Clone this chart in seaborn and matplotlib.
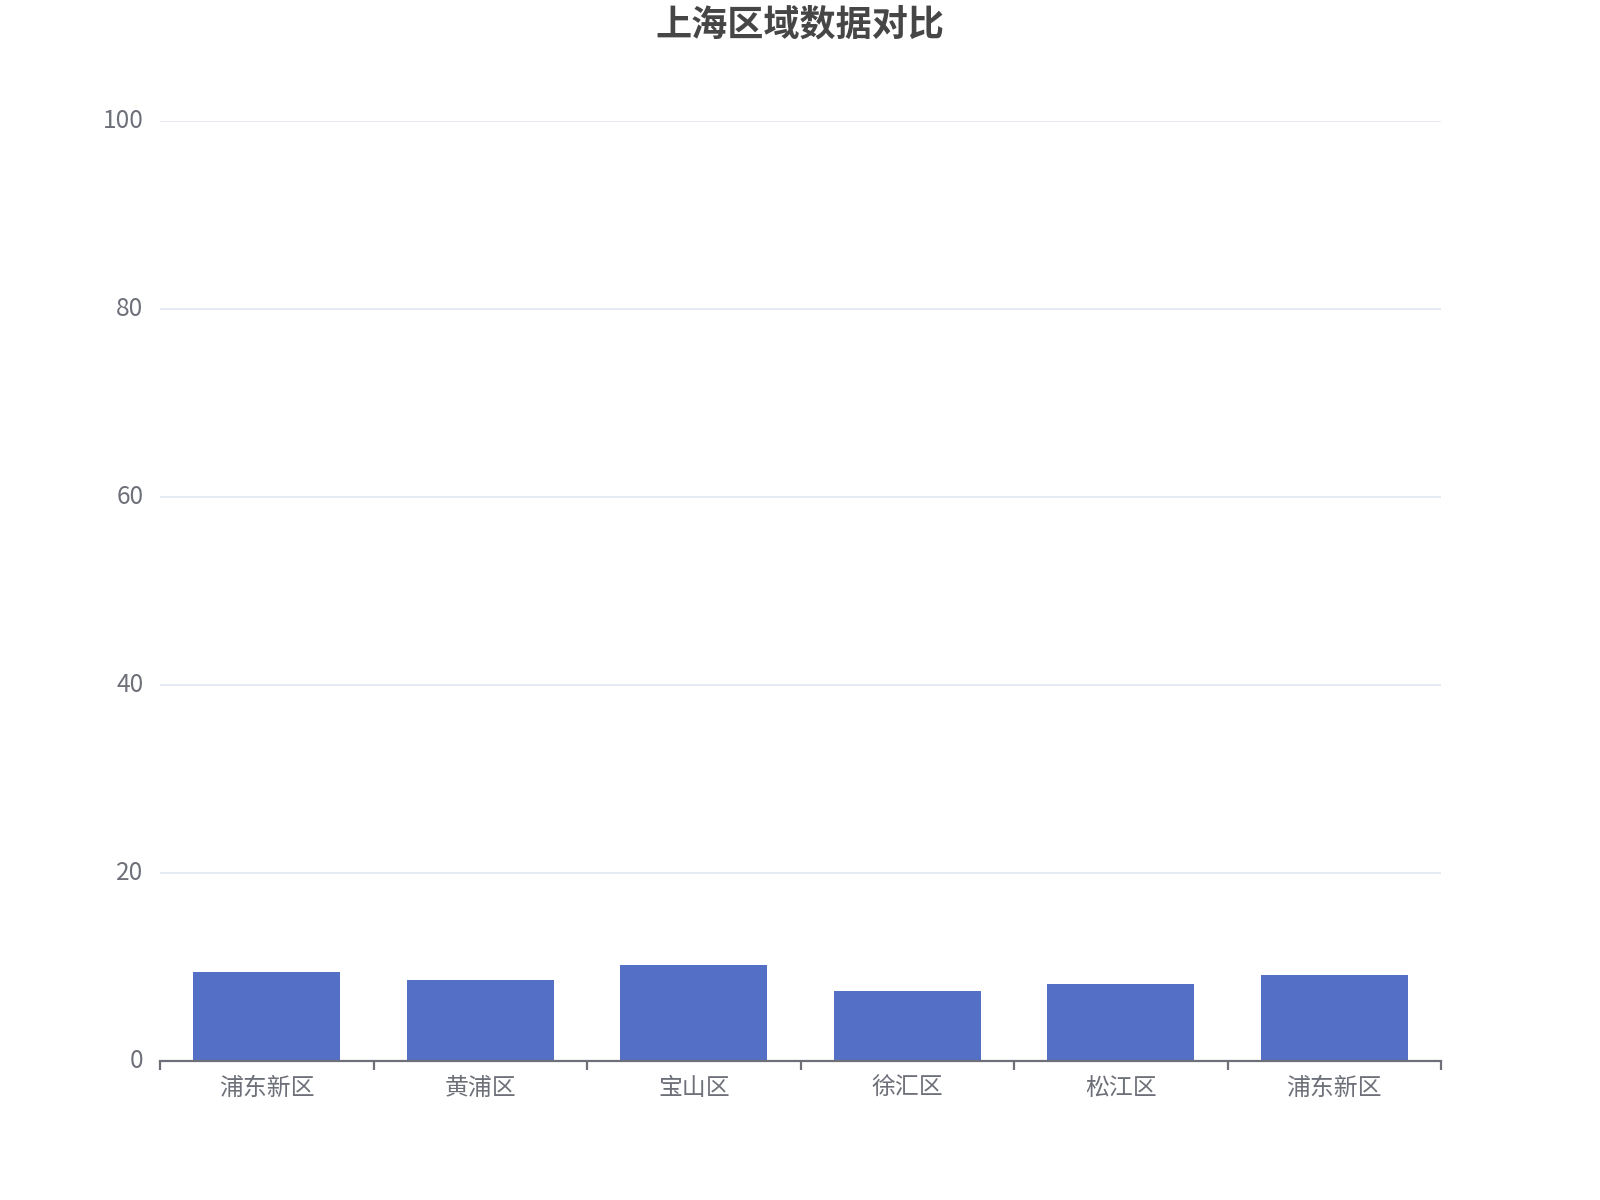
import matplotlib
matplotlib.use("Agg")
import matplotlib.pyplot as plt
import matplotlib.transforms as mtransforms
import seaborn as sns
import numpy as np
import pandas as pd

# data
districts = ["浦东新区", "黄浦区", "宝山区", "徐汇区", "松江区", "浦东新区"]
values = [9.37, 8.55, 10.15, 7.35, 8.12, 9.08]
y_ticks = [0, 20, 40, 60, 80, 100]

sns.set_theme(style="white")
plt.rcParams["font.family"] = ["Noto Sans CJK SC", "DejaVu Sans"]

fig = plt.figure(figsize=(8, 6), dpi=200)
ax = fig.add_axes([160 / 1600, 1 - 1060.5 / 1200, (1441 - 160) / 1600, (1060.5 - 120.5) / 1200])

# unique x key so the repeated name gets its own bar
df = pd.DataFrame({"idx": [str(i) for i in range(len(districts))], "value": values})
sns.barplot(data=df, x="idx", y="value", color="#5470c6", saturation=1,
            width=0.69, ax=ax, zorder=3)
for p in ax.patches:
    p.set_edgecolor("none")

ax.set_xlim(-0.5, len(districts) - 0.5)
ax.set_ylim(0, 100)
ax.set_yticks(y_ticks)
ax.set_xticks(range(len(districts)))
ax.set_xticklabels(districts)
ax.set_xticks(np.arange(-0.5, len(districts), 1.0), minor=True)
ax.set_xlabel("")
ax.set_ylabel("")

ax.grid(axis="y", color="#E0E6F1", linewidth=0.6, zorder=0)
ax.grid(axis="x", visible=False)
for side in ["top", "right", "left"]:
    ax.spines[side].set_visible(False)
ax.spines["bottom"].set_color("#6E7079")
ax.spines["bottom"].set_linewidth(0.8)
ax.spines["bottom"].set_zorder(4)

ax.tick_params(axis="x", which="major", length=0, pad=6, labelsize=8.6, labelcolor="#6E7079")
ax.tick_params(axis="x", which="minor", bottom=True, length=3.2, width=0.8, color="#6E7079")
ax.tick_params(axis="y", length=0, pad=6, labelsize=8.8, labelcolor="#6E7079")

# nudge y labels up a little, like the reference
shift = mtransforms.ScaledTranslation(0, 3 / 200, fig.dpi_scale_trans)
for lbl in ax.get_yticklabels():
    lbl.set_transform(lbl.get_transform() + shift)

fig.text(0.5, 1 - 25 / 1200, "上海区域数据对比", ha="center", va="center",
         fontsize=13, fontweight="bold", color="#464646")

fig.savefig("out.png", dpi=200)
